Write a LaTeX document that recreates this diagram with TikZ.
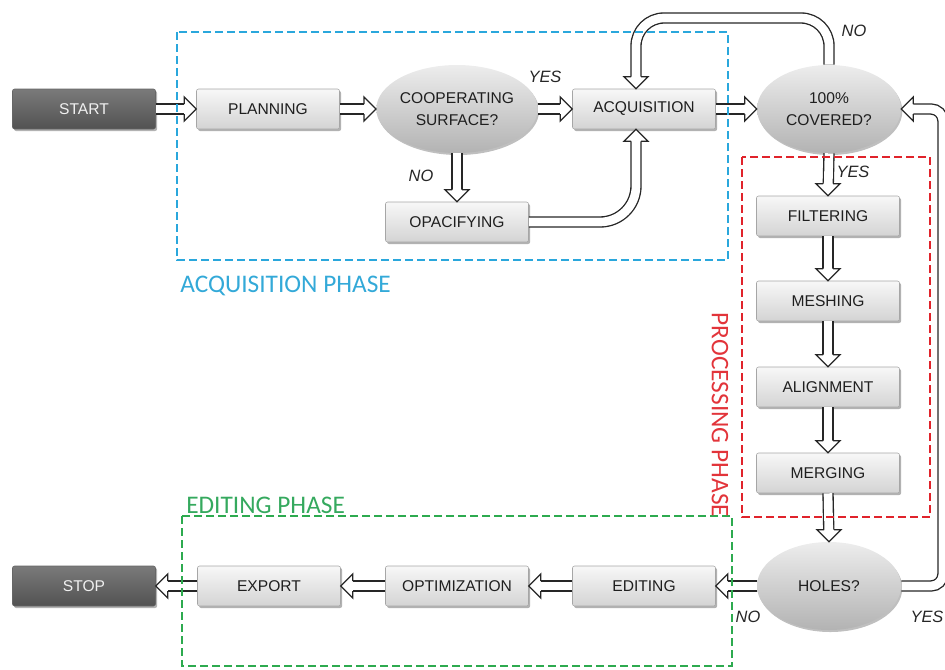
\documentclass[tikz,border=0pt]{standalone}
\usepackage{fontspec}
\setmainfont{Liberation Sans}
\newfontfamily\phasefont{Carlito}
\usetikzlibrary{shapes.geometric,shadows}
\definecolor{acqblue}{HTML}{2AA7DC}
\definecolor{procred}{HTML}{E0232B}
\definecolor{editgreen}{HTML}{2DAA4F}
\definecolor{acqtext}{HTML}{33A9D8}
\definecolor{proctext}{HTML}{E2343A}
\definecolor{edittext}{HTML}{35A95E}
\begin{document}
\begin{tikzpicture}[x=0.75pt,y=-0.75pt,
  box/.style={rectangle, draw=black!35, line width=0.4pt, rounded corners=1.5pt,
    top color=black!3, bottom color=black!17, minimum width=107.25pt, minimum height=30pt,
    inner sep=0pt, font=\fontsize{11.7}{13}\selectfont, text=black!88,
    drop shadow={shadow xshift=1.2pt, shadow yshift=-1.5pt, opacity=0.3, fill=black}},
  term/.style={box, draw=black!60, top color=black!52, bottom color=black!68, text=white!94!black},
  dec/.style={ellipse, draw=none, top color=black!7, bottom color=black!30,
    minimum width=108pt, minimum height=66pt, inner sep=0pt, align=center,
    font=\fontsize{11.7}{16.5}\selectfont, text=black!88,
    drop shadow={shadow xshift=1pt, shadow yshift=-1.5pt, opacity=0.25, fill=black}},
  flow/.style={draw=black!85, line width=1pt, double=white, double distance=6.5pt, shorten >=8.6pt},
  head/.pic={
    \fill[white] (0.2pt,0) -- (-9pt,9pt) -- (-9pt,-9pt) -- cycle;
    \draw[black!85, line width=1pt, line join=miter]
      (-9pt,3.75pt) -- (-9pt,9pt) -- (0,0) -- (-9pt,-9pt) -- (-9pt,-3.75pt);},
  lab/.style={font=\fontsize{12.3}{14}\selectfont\itshape, text=black!85},
  phase/.style={font=\phasefont\fontsize{19}{22}\selectfont},
  phasebox/.style={dash pattern=on 6pt off 3pt, line width=1.6pt}
]
\useasboundingbox (0,0) rectangle (945,669);
\clip (0,0) rectangle (945,669);

% nodes
\node[term] (start) at (84,109) {START};
\node[box]  (plan)  at (268,109) {PLANNING};
\node[dec]  (coop)  at (457,109) {COOPERATING\\SURFACE?};
\node[box]  (acq)   at (644,109) {ACQUISITION};
\node[dec]  (cov)   at (829,109) {100\%\\COVERED?};
\node[box]  (opac)  at (457,222) {OPACIFYING};
\node[box]  (filt)  at (828,216) {FILTERING};
\node[box]  (mesh)  at (828,301) {MESHING};
\node[box]  (align) at (828,387) {ALIGNMENT};
\node[box]  (merge) at (828,473) {MERGING};
\node[dec]  (holes) at (829,586) {HOLES?};
\node[box]  (edit)  at (644,586) {EDITING};
\node[box]  (optim) at (457,586) {OPTIMIZATION};
\node[box]  (export) at (269,586) {EXPORT};
\node[term] (stop)  at (84,586) {STOP};

\coordinate (topy) at (700,18);
\coordinate (rightx) at (943,300);
\coordinate (acqin) at ([xshift=-6pt]acq.north);
\coordinate (acqin2) at ([xshift=-6pt]acq.south);

% connectors (shafts)
\draw[flow] (start.east) -- (plan.west);
\draw[flow] (plan.east) -- (coop.west);
\draw[flow] (coop.east) -- (acq.west);
\draw[flow] (coop.south) -- (opac.north);
\draw[flow, rounded corners=27pt] (opac.east) -| (acqin2);
\draw[flow] (acq.east) -- (cov.west);
\draw[flow, rounded corners=21pt] (cov.north) |- (topy) -| (acqin);
\draw[flow] (cov.south) -- (filt.north);
\draw[flow] (filt.south) -- (mesh.north);
\draw[flow] (mesh.south) -- (align.north);
\draw[flow] (align.south) -- (merge.north);
\draw[flow] (merge.south) -- (holes.north);
\draw[flow, rounded corners=9pt] (holes.east) -| (rightx) |- (cov.east);
\draw[flow] (holes.west) -- (edit.east);
\draw[flow] (edit.west) -- (optim.east);
\draw[flow] (optim.west) -- (export.east);
\draw[flow] (export.west) -- (stop.east);

% arrow heads
\pic at (plan.west) {head};
\pic at (coop.west) {head};
\pic at (acq.west) {head};
\pic[rotate=-90] at (opac.north) {head};
\pic[rotate=90] at (acqin2) {head};
\pic at (cov.west) {head};
\pic[rotate=-90] at (acqin) {head};
\pic[rotate=-90] at (filt.north) {head};
\pic[rotate=-90] at (mesh.north) {head};
\pic[rotate=-90] at (align.north) {head};
\pic[rotate=-90] at (merge.north) {head};
\pic[rotate=-90] at (holes.north) {head};
\pic[rotate=180] at (cov.east) {head};
\pic[rotate=180] at (edit.east) {head};
\pic[rotate=180] at (optim.east) {head};
\pic[rotate=180] at (export.east) {head};
\pic[rotate=180] at (stop.east) {head};

% phase boxes
\draw[phasebox, acqblue] (177,32) rectangle (728,260);
\draw[phasebox, procred] (742,157) rectangle (930,517);
\draw[phasebox, editgreen] (182,516) rectangle (732,666);

% labels
\node[lab] (l1) at (545,77) {YES};
\node[lab] (l2) at (421,176) {NO};
\node[lab] (l3) at (854,31) {NO};
\node[lab] (l4) at (853,172) {YES};
\node[lab] (l5) at (748,617) {NO};
\node[lab] (l6) at (927,617) {YES};

\node[phase, text=acqtext, anchor=base west, inner sep=0pt] (p1) at (180,292) {ACQUISITION PHASE};
\node[phase, text=edittext, anchor=base west, inner sep=0pt] (p2) at (186,513) {EDITING PHASE};
\node[phase, text=proctext, rotate=-90, inner sep=0pt] (p3) at (720,415) {PROCESSING PHASE};
\end{tikzpicture}
\end{document}
